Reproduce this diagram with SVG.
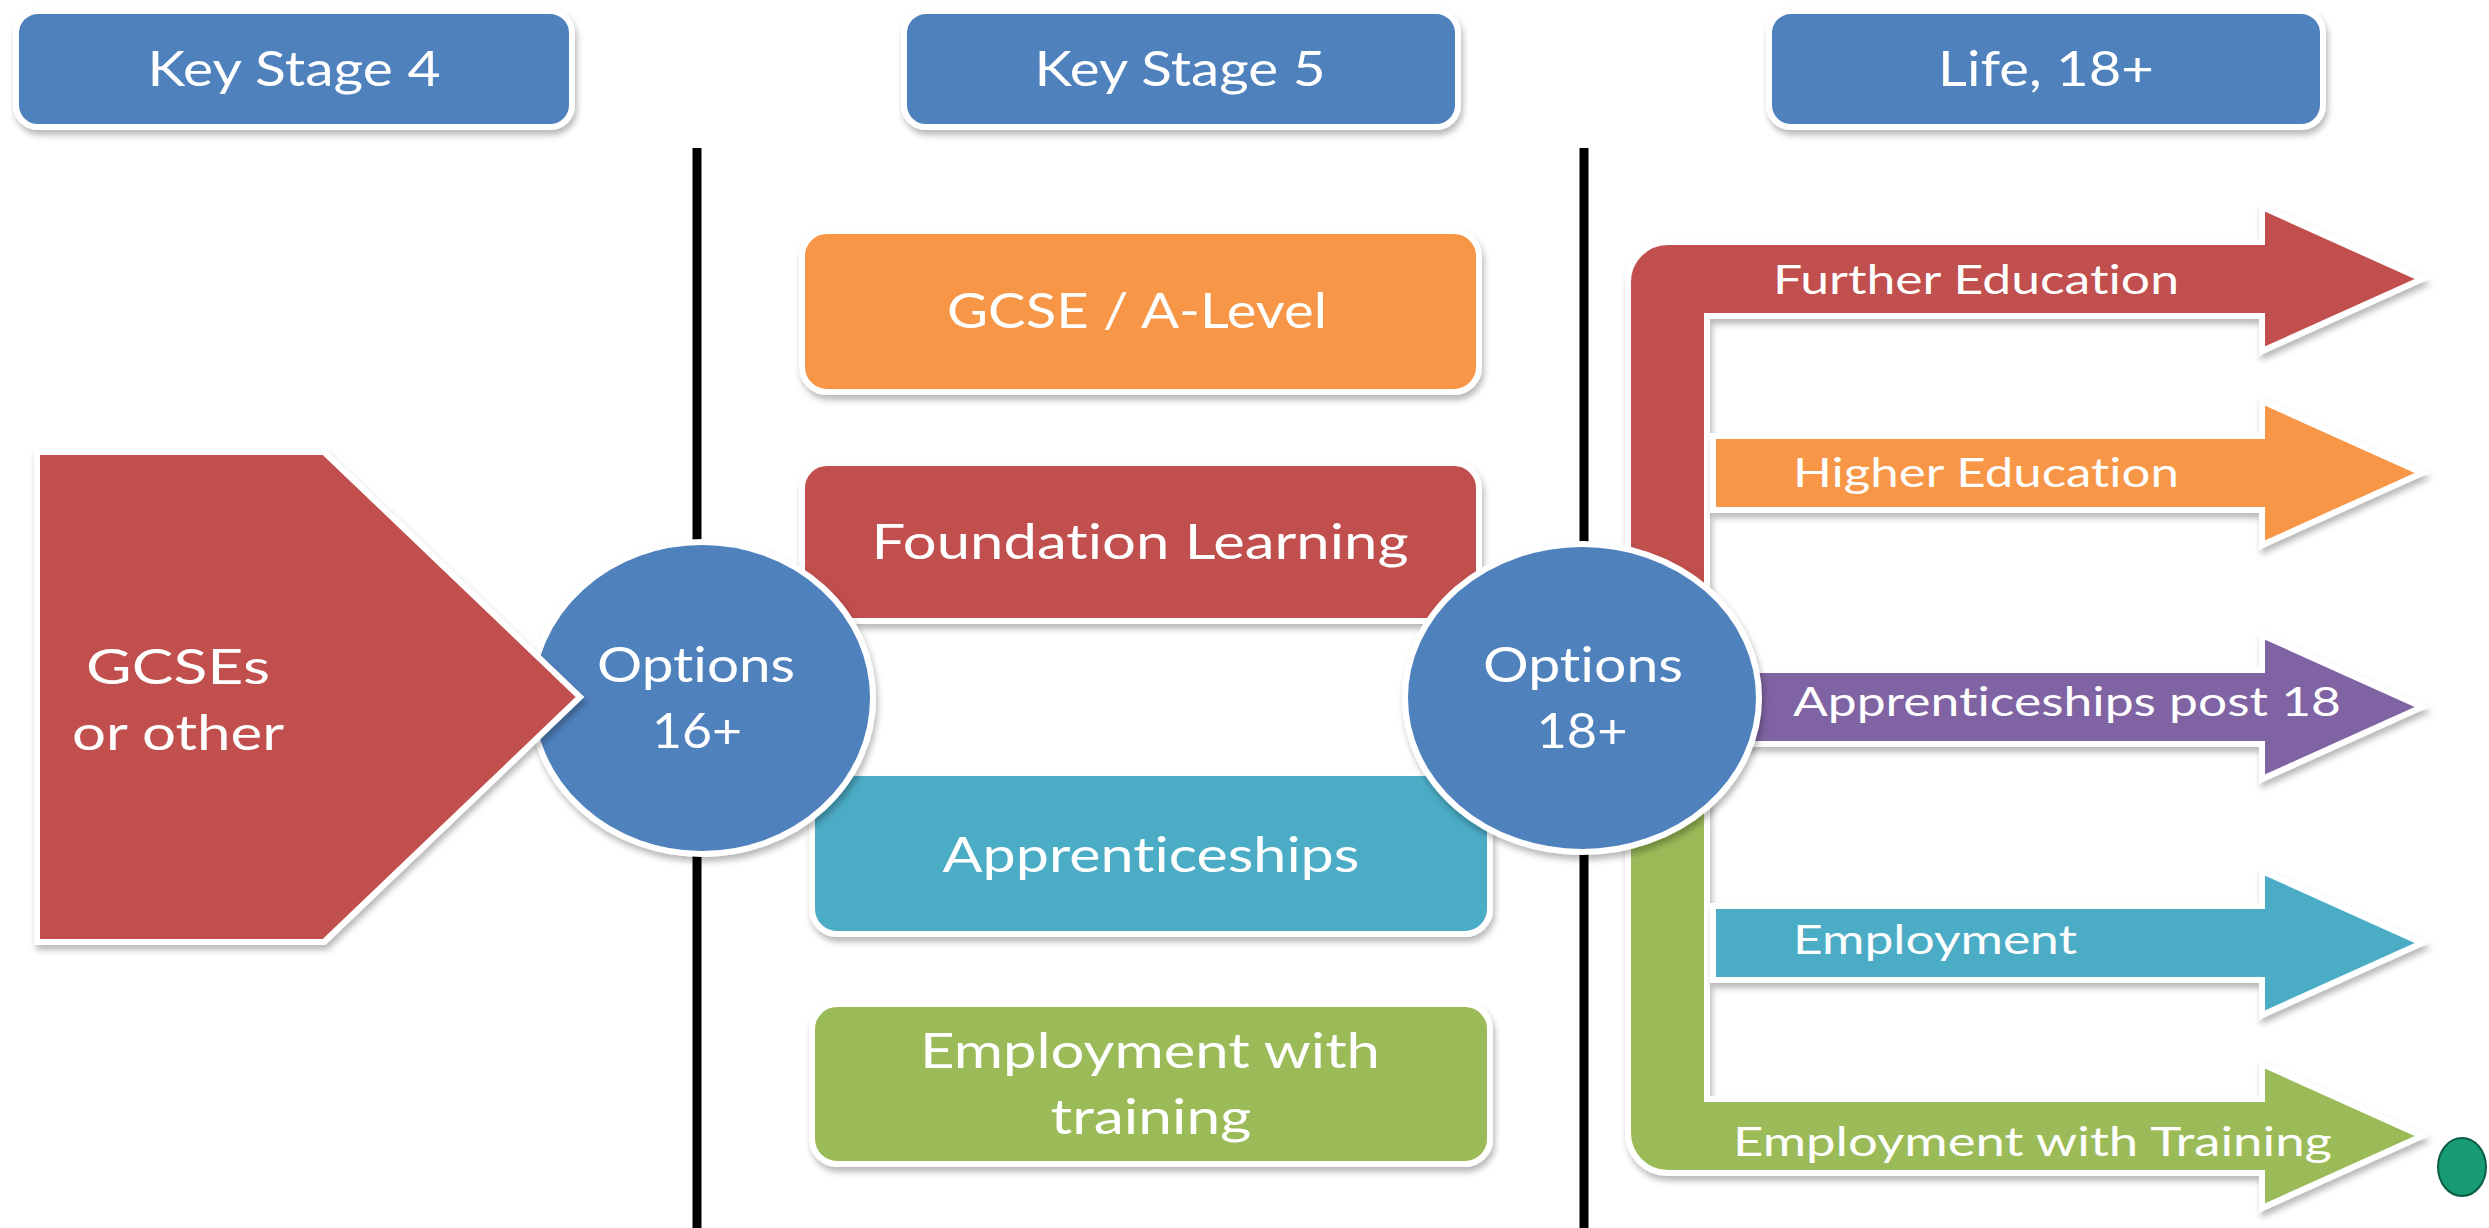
<svg xmlns="http://www.w3.org/2000/svg" width="2489" height="1228" viewBox="0 0 2489 1228">
<defs>
<filter id="sh" x="-10%" y="-10%" width="120%" height="130%">
<feDropShadow dx="2" dy="5" stdDeviation="3" flood-color="#000" flood-opacity="0.28"/>
</filter>
</defs>
<style>
.shape{stroke:#fff;stroke-width:6;stroke-linejoin:miter;filter:url(#sh)}
.blue{fill:#4F81BD}.red{fill:#C0504D}.orange{fill:#F79646}.teal{fill:#4BACC6}.green{fill:#9BBB59}.purple{fill:#8064A2}
.t{font-family:Lato,"Open Sans","Liberation Sans",sans-serif;fill:#fff;text-anchor:middle;font-variant-ligatures:none}
.h{font-size:48px}.m{font-size:49px}.a{font-size:40px;text-anchor:start}
.sep{stroke:#000;stroke-width:9;fill:none}
</style>
<rect width="2489" height="1228" fill="#fff"/>
<g id="separators">
<line class="sep" x1="697" y1="148" x2="697" y2="1228"/>
<line class="sep" x1="1584" y1="148" x2="1584" y2="1228"/>
</g>
<g id="header-ks4">
<rect class="shape blue" x="16" y="11" width="556" height="116" rx="22"/>
<text class="t h" x="294" y="86" textLength="293" lengthAdjust="spacingAndGlyphs">Key Stage 4</text>
</g>
<g id="header-ks5">
<rect class="shape blue" x="904" y="11" width="554" height="116" rx="22"/>
<text class="t h" x="1180" y="86" textLength="291" lengthAdjust="spacingAndGlyphs">Key Stage 5</text>
</g>
<g id="header-life">
<rect class="shape blue" x="1769" y="11" width="554" height="116" rx="22"/>
<text class="t h" x="2046" y="86" textLength="216" lengthAdjust="spacingAndGlyphs">Life, 18+</text>
</g>
<g id="gcse-alevel">
<rect class="shape orange" x="802" y="231" width="677" height="161" rx="25"/>
<text class="t m" x="1137" y="328" font-size="51" textLength="380" lengthAdjust="spacingAndGlyphs">GCSE / A-Level</text>
</g>
<g id="foundation-learning">
<rect class="shape red" x="802" y="463" width="677" height="158" rx="25"/>
<text class="t m" x="1140" y="559" textLength="537" lengthAdjust="spacingAndGlyphs">Foundation Learning</text>
</g>
<g id="apprenticeships">
<rect class="shape teal" x="812" y="773" width="678" height="161" rx="25"/>
<text class="t m" x="1151" y="872" textLength="417" lengthAdjust="spacingAndGlyphs">Apprenticeships</text>
</g>
<g id="employment-with-training">
<rect class="shape green" x="812" y="1004" width="678" height="160" rx="25"/>
<text class="t m" x="1150" y="1068" textLength="460" lengthAdjust="spacingAndGlyphs">Employment with</text>
<text class="t m" x="1151" y="1134" textLength="201" lengthAdjust="spacingAndGlyphs">training</text>
</g>
<g id="connectors">
<g id="arrow-further-education">
<path class="shape red" d="M1628 700 L1628 282 A40 40 0 0 1 1668 242 L2262 242 L2262 207 L2422 279 L2262 351 L2262 316 L1707 316 L1707 700 Z"/>
<text class="t a" x="1773" y="294" textLength="406" lengthAdjust="spacingAndGlyphs">Further Education</text>
</g>
<g id="arrow-employment-with-training">
<path class="shape green" d="M1707 700 L1707 1099 L2262 1099 L2262 1064 L2422 1136 L2262 1208 L2262 1173 L1668 1173 A40 40 0 0 1 1628 1133 L1628 700 Z"/>
<text class="t a" x="1733" y="1156" textLength="599" lengthAdjust="spacingAndGlyphs">Employment with Training</text>
</g>
<g id="arrow-higher-education">
<path class="shape orange" d="M1713 436 L2262 436 L2262 401 L2422 473 L2262 545 L2262 510 L1713 510 Z"/>
<text class="t a" x="1793" y="487" textLength="386" lengthAdjust="spacingAndGlyphs">Higher Education</text>
</g>
<g id="arrow-apprenticeships-post-18">
<path class="shape purple" d="M1713 670 L2262 670 L2262 635 L2422 707 L2262 779 L2262 744 L1713 744 Z"/>
<text class="t a" x="1793" y="716" textLength="548" lengthAdjust="spacingAndGlyphs">Apprenticeships post 18</text>
</g>
<g id="arrow-employment">
<path class="shape teal" d="M1713 906 L2262 906 L2262 871 L2422 943 L2262 1015 L2262 980 L1713 980 Z"/>
<text class="t a" x="1793" y="954" textLength="284" lengthAdjust="spacingAndGlyphs">Employment</text>
</g>
</g>
<g id="options-16">
<ellipse class="shape blue" cx="702" cy="698" rx="171" ry="156"/>
<text class="t m" x="696" y="682" textLength="198" lengthAdjust="spacingAndGlyphs">Options</text>
<text class="t m" x="697" y="748" textLength="90" lengthAdjust="spacingAndGlyphs">16+</text>
</g>
<g id="gcses-or-other">
<path class="shape red" d="M37 452 L324 452 L580 697 L324 942 L37 942 Z"/>
<text class="t m" x="178" y="684" textLength="184" lengthAdjust="spacingAndGlyphs">GCSEs</text>
<text class="t m" x="178" y="750" textLength="212" lengthAdjust="spacingAndGlyphs">or other</text>
</g>
<g id="options-18">
<ellipse class="shape blue" cx="1582" cy="698" rx="177" ry="154"/>
<text class="t m" x="1583" y="682" textLength="200" lengthAdjust="spacingAndGlyphs">Options</text>
<text class="t m" x="1582" y="748" textLength="91" lengthAdjust="spacingAndGlyphs">18+</text>
</g>
<g id="dot">
<ellipse cx="2462" cy="1167" rx="24" ry="29" fill="#179B74" stroke="#0B5E45" stroke-width="2"/>
</g>
</svg>
